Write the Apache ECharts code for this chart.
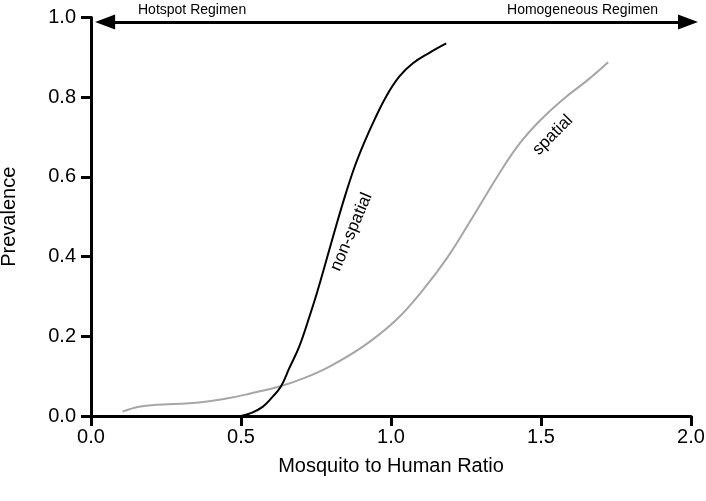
<!DOCTYPE html>
<html>
<head>
<meta charset="utf-8">
<script src="https://cdn.jsdelivr.net/npm/echarts@6/dist/echarts.min.js"></script>
<style>
  html, body { margin: 0; padding: 0; background: #fff; }
  #chart { width: 706px; height: 501px; }
</style>
</head>
<body>
<div id="chart"></div>
<script>
// non-spatial model: [mosquito to human ratio, prevalence]
const nonSpatial = [
  [0.50, 0.0], [0.535, 0.008], [0.572, 0.023], [0.605, 0.048], [0.633, 0.074],
  [0.661, 0.12], [0.694, 0.174], [0.728, 0.249], [0.756, 0.316], [0.817, 0.477],
  [0.85, 0.56], [0.88, 0.628], [0.91, 0.685], [0.944, 0.742], [0.984, 0.802],
  [1.028, 0.852], [1.073, 0.885], [1.129, 0.912], [1.184, 0.935]
]

// spatial model
const spatial = [
  [0.105, 0.011], [0.16, 0.023], [0.216, 0.028], [0.327, 0.032], [0.394, 0.037],
  [0.461, 0.045], [0.528, 0.056], [0.628, 0.074], [0.71, 0.095], [0.795, 0.124],
  [0.906, 0.174], [1.017, 0.241], [1.106, 0.316], [1.19, 0.4], [1.273, 0.5],
  [1.362, 0.61], [1.429, 0.684], [1.496, 0.741], [1.574, 0.795], [1.652, 0.841],
  [1.724, 0.888]
]

// double arrow across the top, from hotspot to homogeneous regimen
const regimenArrow = [[0.047, 0.989], [1.99, 0.989]]
const regimenLabels = ['Hotspot Regimen', 'Homogeneous Regimen']

// curve labels: [text, x, y, angle]
const curveLabels = [
  ['non-spatial', 0.868, 0.462, 67],
  ['spatial', 1.539, 0.705, 45]
]

const font = 'Liberation Sans, Arial, Helvetica, sans-serif'

const axisBase = {
  axisLine: { show: true, lineStyle: { color: '#000', width: 3 } },
  axisTick: { show: true, length: 10, lineStyle: { color: '#000', width: 3 } },
  splitLine: { show: false },
  axisLabel: {
    color: '#000',
    fontSize: 20,
    fontFamily: font,
    formatter: v => v.toFixed(1),
  },
  nameTextStyle: { color: '#000', fontSize: 20, fontFamily: font },
}

const titleStyle = { fontSize: 14, fontWeight: 'normal', color: '#000', fontFamily: font }

function curveLabel(item) {
  return {
    coord: [item[1], item[2]],
    label: {
      show: true,
      formatter: item[0],
      rotate: item[3],
      position: 'inside',
      color: '#000',
      fontSize: 17,
      fontFamily: font,
    },
  }
}

const option = {
  animation: false,
  textStyle: { fontFamily: font },
  title: [
    { text: regimenLabels[0], left: 133, top: -2, textStyle: titleStyle },
    { text: regimenLabels[1], right: 43, top: -2, textStyle: titleStyle },
  ],
  grid: {
    left: 91,
    right: 15,
    top: 17.5,
    bottom: 85,
    containLabel: false,
    outerBoundsMode: 'none',
  },
  xAxis: {
    ...axisBase,
    type: 'value',
    min: 0,
    max: 2,
    interval: 0.5,
    name: 'Mosquito to Human Ratio',
    nameLocation: 'middle',
    nameGap: 40,
    axisLabel: { ...axisBase.axisLabel, margin: 11 },
  },
  yAxis: {
    ...axisBase,
    type: 'value',
    min: 0,
    max: 1,
    interval: 0.2,
    name: 'Prevalence',
    nameLocation: 'middle',
    nameGap: 72,
    axisLabel: { ...axisBase.axisLabel, margin: 15 },
  },
  series: [
    {
      name: 'spatial',
      type: 'line',
      smooth: 0.4,
      symbol: 'none',
      lineStyle: { color: '#a6a6a6', width: 2 },
      data: spatial,
      markPoint: {
        symbol: 'circle',
        symbolSize: 0,
        silent: true,
        data: [curveLabel(curveLabels[1])],
      },
    },
    {
      name: 'non-spatial',
      type: 'line',
      smooth: 0.4,
      symbol: 'none',
      lineStyle: { color: '#000', width: 2 },
      data: nonSpatial,
      markPoint: {
        symbol: 'circle',
        symbolSize: 0,
        silent: true,
        data: [curveLabel(curveLabels[0])],
      },
      markLine: {
        silent: true,
        symbol: ['triangle', 'triangle'],
        symbolSize: [15, 20],
        label: { show: false },
        lineStyle: { color: '#000', width: 3, type: 'solid' },
        data: [[{ coord: regimenArrow[0] }, { coord: regimenArrow[1] }]],
      },
    },
  ],
}

const chart = echarts.init(document.getElementById('chart'))
chart.setOption(option)
</script>
</body>
</html>
